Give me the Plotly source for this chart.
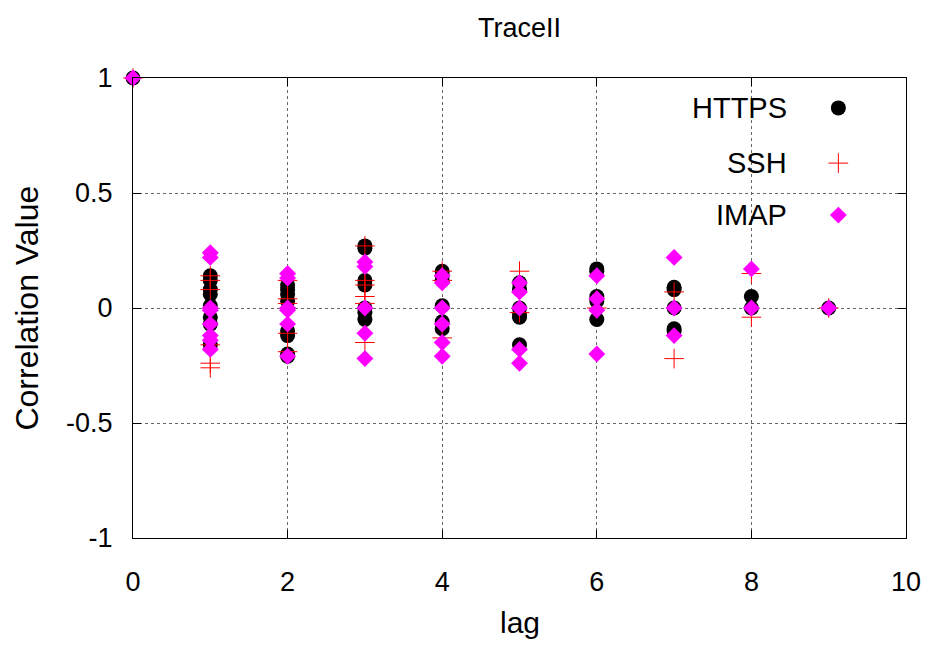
import plotly.graph_objects as go

lags = [0, 1, 2, 3, 4, 5, 6, 7, 8, 9]

https_vals = [
    [1.0],
    [0.14, 0.12, 0.08, 0.06, 0.01, -0.04, -0.07, -0.16],
    [0.10, 0.08, 0.06, 0.03, -0.10, -0.12, -0.20, -0.21],
    [0.27, 0.26, 0.12, 0.10, 0.00, -0.02, -0.05],
    [0.16, 0.14, 0.12, 0.01, -0.06, -0.09],
    [0.11, 0.08, 0.00, -0.03, -0.04, -0.16],
    [0.17, 0.16, 0.05, 0.03, -0.05],
    [0.09, 0.08, 0.00, -0.09, -0.10],
    [0.05, 0.00],
    [0.0],
]
ssh_vals = [
    [1.0],
    [0.14, 0.12, 0.08, -0.16, -0.24, -0.26],
    [0.12, 0.04, 0.02, -0.11, -0.19],
    [0.27, 0.12, 0.10, 0.05, 0.02, -0.15],
    [0.16, 0.12, -0.13],
    [0.16, -0.02],
    [0.0],
    [0.07, -0.22],
    [0.15, -0.04],
    [0.0],
]
imap_vals = [
    [1.0],
    [0.24, 0.22, 0.00, -0.01, -0.07, -0.12, -0.14, -0.18],
    [0.15, 0.13, 0.00, -0.01, -0.07, -0.21],
    [0.20, 0.18, 0.00, -0.11, -0.22],
    [0.14, 0.11, 0.00, -0.07, -0.15, -0.21],
    [0.11, 0.07, 0.00, -0.18, -0.24],
    [0.14, 0.04, -0.01, -0.20],
    [0.22, 0.00, -0.12],
    [0.17, 0.00],
    [0.0],
]

series_names = ["HTTPS", "SSH", "IMAP"]
x_ticks = [0, 2, 4, 6, 8, 10]
y_ticks = [-1, -0.5, 0, 0.5, 1]
y_tick_labels = ["-1", "-0.5", "0", "0.5", "1"]


def flatten(vals):
    xs, ys = [], []
    for lag, vs in zip(lags, vals):
        for v in vs:
            xs.append(lag)
            ys.append(v)
    return xs, ys


FONT = "Liberation Sans, Arial, sans-serif"
styles = [
    dict(symbol="circle", size=15, color="black", line=dict(width=0)),
    dict(symbol="cross-thin", size=14, color="#ff0000", line=dict(width=1, color="#ff0000")),
    dict(symbol="diamond", size=13, color="#ff00ff", line=dict(width=0)),
]

fig = go.Figure()
for name, vals, st in zip(series_names, [https_vals, ssh_vals, imap_vals], styles):
    xs, ys = flatten(vals)
    fig.add_trace(go.Scatter(x=xs, y=ys, mode="markers", name=name, marker=st,
                             cliponaxis=False, showlegend=False))

# legend keys (drawn on a hidden overlay axis, right of the labels)
legend_rows = [0.935, 0.815, 0.702]
for name, st, yy in zip(series_names, styles, legend_rows):
    fig.add_trace(go.Scatter(x=[0.9125], y=[yy], mode="markers", marker=st,
                             xaxis="x2", yaxis="y2", showlegend=False, hoverinfo="skip"))
    fig.add_annotation(x=0.849, y=yy, xref="paper", yref="paper", text=name,
                       showarrow=False, xanchor="right", yanchor="middle",
                       font=dict(family=FONT, size=29, color="black"))

fig.add_shape(type="rect", xref="paper", yref="paper", x0=0.736, x1=0.983, y0=0.652, y1=0.985,
              fillcolor="white", line=dict(width=0), layer="between")

axis_common = dict(showline=True, linecolor="black", linewidth=1, mirror="ticks",
                   ticks="inside", ticklen=8, tickcolor="black",
                   showgrid=True, gridcolor="#666666", griddash="dot", gridwidth=1,
                   zeroline=False, tickfont=dict(family=FONT, size=27, color="black"))

fig.update_layout(
    width=933, height=646,
    margin=dict(l=133, r=23, t=78, b=108),
    paper_bgcolor="white", plot_bgcolor="white",
    showlegend=False,
    xaxis=dict(range=[0, 10], tickvals=x_ticks, ticklabelstandoff=20, **axis_common),
    yaxis=dict(range=[-1, 1], tickvals=y_ticks, ticktext=y_tick_labels, ticklabelstandoff=14, **axis_common),
    xaxis2=dict(range=[0, 1], overlaying="x", visible=False, fixedrange=True),
    yaxis2=dict(range=[0, 1], overlaying="y", visible=False, fixedrange=True),
)

fig.add_annotation(x=0.5, y=(538 - 28) / 460, xref="paper", yref="paper", text="TraceII", showarrow=False,
                   yanchor="middle", font=dict(family=FONT, size=27, color="black"))
fig.add_annotation(x=0.5, y=(538 - 622) / 460, xref="paper", yref="paper", text="lag", showarrow=False,
                   yanchor="middle", font=dict(family=FONT, size=30, color="black"))
fig.add_annotation(x=(26 - 133) / 777, y=0.5, xref="paper", yref="paper", text="Correlation Value",
                   showarrow=False, textangle=-90, xanchor="center", yanchor="middle",
                   font=dict(family=FONT, size=32, color="black"))

fig.write_html("out.html")
